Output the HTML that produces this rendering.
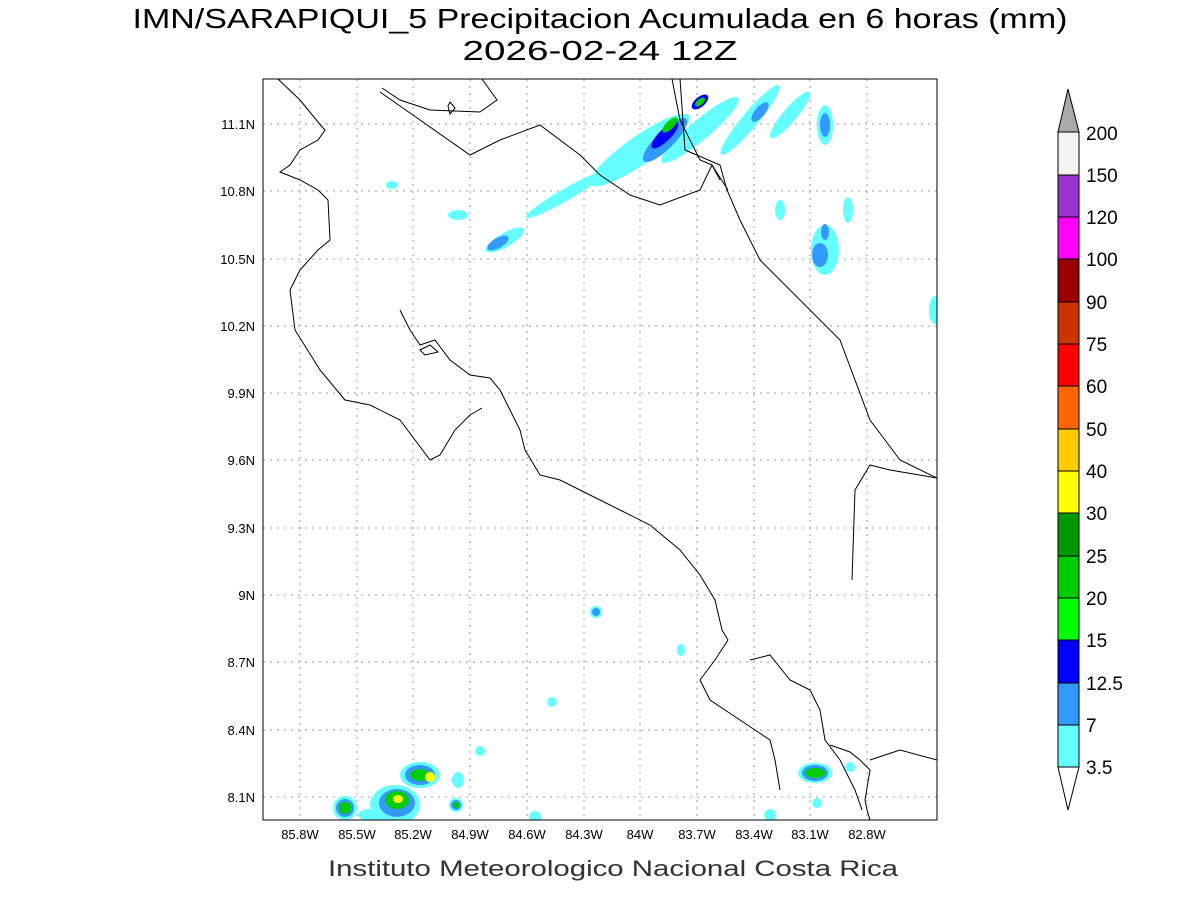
<!DOCTYPE html>
<html><head><meta charset="utf-8"><style>
html,body{margin:0;padding:0;background:#fff;}
svg{display:block;font-family:"Liberation Sans",sans-serif;}
</style></head><body>
<svg width="1200" height="900" viewBox="0 0 1200 900">
<text x="600" y="28" font-size="28" text-anchor="middle" textLength="935" lengthAdjust="spacingAndGlyphs">IMN/SARAPIQUI_5 Precipitacion Acumulada en 6 horas (mm)</text>
<text x="600" y="60" font-size="28" text-anchor="middle" textLength="275" lengthAdjust="spacingAndGlyphs">2026-02-24 12Z</text>
<defs><clipPath id="c"><rect x="263" y="79" width="674" height="741"/></clipPath></defs>
<g stroke="#999" stroke-width="1" stroke-dasharray="2,5">
<line x1="300" y1="79" x2="300" y2="820"/><line x1="357" y1="79" x2="357" y2="820"/><line x1="413" y1="79" x2="413" y2="820"/><line x1="470" y1="79" x2="470" y2="820"/><line x1="527" y1="79" x2="527" y2="820"/><line x1="584" y1="79" x2="584" y2="820"/><line x1="640" y1="79" x2="640" y2="820"/><line x1="697" y1="79" x2="697" y2="820"/><line x1="754" y1="79" x2="754" y2="820"/><line x1="810" y1="79" x2="810" y2="820"/><line x1="867" y1="79" x2="867" y2="820"/>
<line x1="263" y1="124" x2="937" y2="124"/><line x1="263" y1="191" x2="937" y2="191"/><line x1="263" y1="259" x2="937" y2="259"/><line x1="263" y1="326" x2="937" y2="326"/><line x1="263" y1="393" x2="937" y2="393"/><line x1="263" y1="460" x2="937" y2="460"/><line x1="263" y1="528" x2="937" y2="528"/><line x1="263" y1="595" x2="937" y2="595"/><line x1="263" y1="662" x2="937" y2="662"/><line x1="263" y1="730" x2="937" y2="730"/><line x1="263" y1="797" x2="937" y2="797"/>
</g>
<g clip-path="url(#c)">
<g fill="#66ffff">
<ellipse cx="640" cy="150" rx="60" ry="14" transform="rotate(-35 640 150)"/>
<ellipse cx="700" cy="130" rx="50" ry="10" transform="rotate(-40 700 130)"/>
<ellipse cx="750" cy="120" rx="45" ry="8" transform="rotate(-50 750 120)"/>
<ellipse cx="565" cy="195" rx="45" ry="6" transform="rotate(-30 565 195)"/>
<ellipse cx="505" cy="240" rx="22" ry="7" transform="rotate(-30 505 240)"/>
<ellipse cx="790" cy="115" rx="30" ry="7" transform="rotate(-50 790 115)"/>
<ellipse cx="825" cy="125" rx="8" ry="20"/>
<ellipse cx="825" cy="250" rx="14" ry="25"/>
<ellipse cx="848" cy="210" rx="5" ry="13"/>
<ellipse cx="935" cy="310" rx="6" ry="14"/>
<ellipse cx="458" cy="215" rx="10" ry="5"/>
<ellipse cx="392" cy="185" rx="6" ry="4"/>
<ellipse cx="780" cy="210" rx="5" ry="10"/>
<ellipse cx="596" cy="612" rx="6" ry="6"/><ellipse cx="681" cy="650" rx="4" ry="6"/><ellipse cx="552" cy="702" rx="5" ry="5"/><ellipse cx="480" cy="751" rx="5" ry="5"/>
<ellipse cx="815" cy="773" rx="17" ry="10"/><ellipse cx="850" cy="767" rx="5" ry="5"/><ellipse cx="817" cy="803" rx="5" ry="5"/>
<ellipse cx="420" cy="775" rx="20" ry="13"/><ellipse cx="395" cy="805" rx="25" ry="20"/><ellipse cx="345" cy="808" rx="12" ry="12"/><ellipse cx="456" cy="805" rx="7" ry="7"/><ellipse cx="458" cy="780" rx="6" ry="8"/><ellipse cx="370" cy="815" rx="12" ry="6"/><ellipse cx="535" cy="817" rx="6" ry="6"/><ellipse cx="770" cy="815" rx="6" ry="6"/>
</g>
<g fill="#3399ff">
<ellipse cx="665" cy="140" rx="30" ry="9" transform="rotate(-45 665 140)"/>
<ellipse cx="760" cy="112" rx="12" ry="5" transform="rotate(-50 760 112)"/>
<ellipse cx="825" cy="125" rx="5" ry="12"/><ellipse cx="820" cy="255" rx="8" ry="12"/><ellipse cx="825" cy="232" rx="4" ry="8"/>
<ellipse cx="498" cy="243" rx="12" ry="5" transform="rotate(-30 498 243)"/>
<ellipse cx="596" cy="612" rx="4" ry="4"/>
<ellipse cx="815" cy="773" rx="13" ry="8"/><ellipse cx="420" cy="775" rx="15" ry="10"/><ellipse cx="397" cy="803" rx="18" ry="14"/><ellipse cx="345" cy="808" rx="9" ry="9"/><ellipse cx="456" cy="805" rx="5" ry="5"/>
</g>
<g fill="#0000ff"><ellipse cx="665" cy="135" rx="18" ry="6" transform="rotate(-45 665 135)"/><ellipse cx="700" cy="102" rx="10" ry="5" transform="rotate(-40 700 102)"/></g>
<g fill="#00cc00"><ellipse cx="670" cy="125" rx="10" ry="4" transform="rotate(-45 670 125)"/><ellipse cx="700" cy="102" rx="6" ry="3" transform="rotate(-40 700 102)"/><ellipse cx="815" cy="773" rx="10" ry="5"/><ellipse cx="420" cy="775" rx="10" ry="6"/><ellipse cx="397" cy="800" rx="12" ry="9"/><ellipse cx="345" cy="808" rx="6" ry="6"/><ellipse cx="456" cy="805" rx="3" ry="3"/></g>
<g fill="#ffff00"><ellipse cx="430" cy="777" rx="5" ry="5"/><ellipse cx="398" cy="799" rx="5" ry="4"/></g>
<g fill="none" stroke="#000" stroke-width="1">
<polyline points="278,79 300,100 318,122 325,130 318,140 300,150 290,165 280,172 300,180 318,190 328,200 330,240 318,250 300,270 290,290 295,330 320,370 345,400 370,405 400,420 430,460 440,455 455,430 470,415 482,408"/>
<polyline points="400,310 410,330 420,345 435,340 450,360 470,375 490,378 500,390 510,410 520,430 525,450 540,475 560,480 590,495 620,510 650,525 680,550 700,575 715,600 722,630 728,640 715,660 700,680 710,700 740,720 770,740 775,760 780,790"/>
<polyline points="750,660 770,655 790,680 810,690 820,710 825,740 840,760 855,790 862,810"/>
<polyline points="830,745 850,752 860,760 870,770 865,800 867,810 870,820"/>
<polyline points="870,760 900,750 937,760"/>
<polyline points="852,580 855,490 870,465 890,470 937,478"/>
<polyline points="680,79 685,150 720,165 727,190 740,220 760,260 800,300 840,340 870,420 885,440 900,460 937,478"/>
<polyline points="380,92 420,120 470,155 500,140 540,125 580,155 600,175 630,195 660,205 700,190 712,165 720,180"/>
<polyline points="482,79 497,100 480,112 430,110 400,100 382,88"/>
<polyline points="672,79 680,120 700,160 712,165 728,190"/>
<polygon points="420,350 430,345 438,352 425,355"/>
<polygon points="450,102 455,108 450,114 448,106"/>
</g>
</g>
<rect x="263" y="79" width="674" height="741" fill="none" stroke="#000" stroke-width="1"/>
<g font-size="13" text-anchor="end">
<text x="255" y="129">11.1N</text><text x="255" y="196">10.8N</text><text x="255" y="264">10.5N</text><text x="255" y="331">10.2N</text><text x="255" y="398">9.9N</text><text x="255" y="465">9.6N</text><text x="255" y="533">9.3N</text><text x="255" y="600">9N</text><text x="255" y="667">8.7N</text><text x="255" y="735">8.4N</text><text x="255" y="802">8.1N</text>
</g>
<g font-size="13" text-anchor="middle">
<text x="300" y="839">85.8W</text><text x="357" y="839">85.5W</text><text x="413" y="839">85.2W</text><text x="470" y="839">84.9W</text><text x="527" y="839">84.6W</text><text x="584" y="839">84.3W</text><text x="640" y="839">84W</text><text x="697" y="839">83.7W</text><text x="754" y="839">83.4W</text><text x="810" y="839">83.1W</text><text x="867" y="839">82.8W</text>
</g>
<text x="613" y="876" font-size="22" text-anchor="middle" fill="#333" textLength="570" lengthAdjust="spacingAndGlyphs">Instituto Meteorologico Nacional Costa Rica</text>
<g stroke="#000" stroke-width="1">
<polygon points="1068,89 1058,132 1079,132" fill="#aaaaaa"/>
<rect x="1058" y="132" width="21" height="43" fill="#f3f3f3"/>
<rect x="1058" y="175" width="21" height="42" fill="#9933cc"/>
<rect x="1058" y="217" width="21" height="42" fill="#ff00ff"/>
<rect x="1058" y="259" width="21" height="43" fill="#990000"/>
<rect x="1058" y="302" width="21" height="42" fill="#cc3300"/>
<rect x="1058" y="344" width="21" height="42" fill="#ff0000"/>
<rect x="1058" y="386" width="21" height="43" fill="#ff6600"/>
<rect x="1058" y="429" width="21" height="42" fill="#ffcc00"/>
<rect x="1058" y="471" width="21" height="42" fill="#ffff00"/>
<rect x="1058" y="513" width="21" height="43" fill="#009900"/>
<rect x="1058" y="556" width="21" height="42" fill="#00cc00"/>
<rect x="1058" y="598" width="21" height="42" fill="#00ff00"/>
<rect x="1058" y="640" width="21" height="43" fill="#0000ff"/>
<rect x="1058" y="683" width="21" height="42" fill="#3399ff"/>
<rect x="1058" y="725" width="21" height="42" fill="#66ffff"/>
<polygon points="1058,767 1079,767 1068,810" fill="#fff"/>
</g>
<g font-size="19">
<text x="1086" y="140">200</text><text x="1086" y="182">150</text><text x="1086" y="224">120</text><text x="1086" y="266">100</text><text x="1086" y="309">90</text><text x="1086" y="351">75</text><text x="1086" y="393">60</text><text x="1086" y="436">50</text><text x="1086" y="478">40</text><text x="1086" y="520">30</text><text x="1086" y="563">25</text><text x="1086" y="605">20</text><text x="1086" y="647">15</text><text x="1086" y="690">12.5</text><text x="1086" y="732">7</text><text x="1086" y="774">3.5</text>
</g>
</svg>
</body></html>
